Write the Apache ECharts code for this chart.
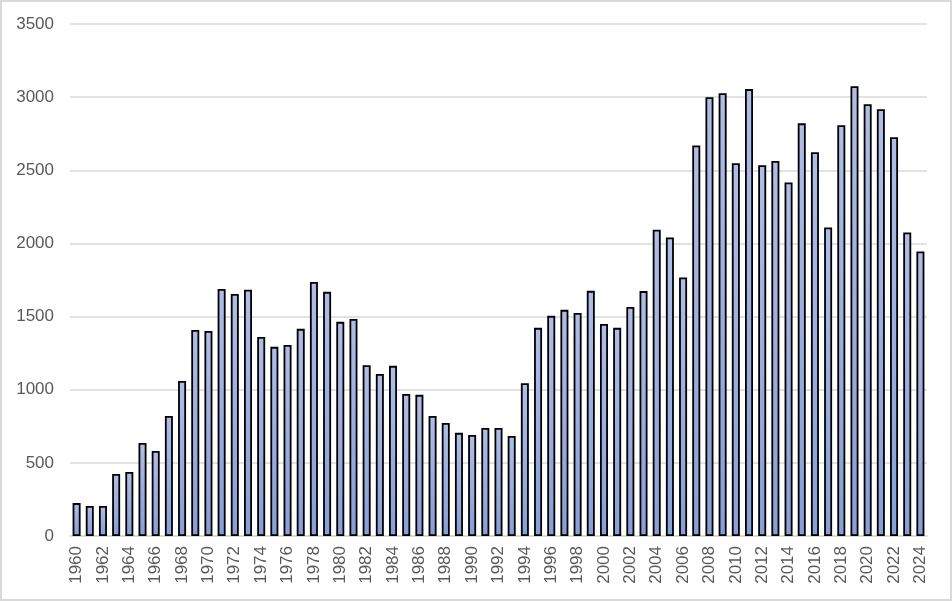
<!DOCTYPE html>
<html>
<head>
<meta charset="utf-8">
<script src="https://cdn.jsdelivr.net/npm/echarts@6/dist/echarts.min.js"></script>
<style>
	html, body { margin: 0; padding: 0; background: #fff; }
	#main { width: 948px; height: 597px; border: 2px solid #d9d9d9; }
</style>
</head>
<body>
<div id="main"></div>
<script>
var years = [];
for (var y = 1960; y <= 2024; y++) years.push(String(y));

var values = [
	225, 205, 205, 424, 438, 636, 581, 821, 1060, 1409,
	1402, 1689, 1655, 1683, 1361, 1293, 1306, 1416, 1737, 1669,
	1464, 1484, 1168, 1108, 1163, 971, 965, 821, 773, 705,
	691, 739, 739, 684, 1045, 1423, 1505, 1546, 1525, 1676,
	1450, 1423, 1566, 1674, 2094, 2041, 1767, 2669, 3000, 3027,
	2548, 3055, 2534, 2564, 2416, 2821, 2623, 2109, 2808, 3075,
	2951, 2917, 2726, 2075, 1945
];

var myChart = echarts.init(document.getElementById('main'));

var option = {
	animation: false,
	grid: { left: 68, right: 23, top: 22, bottom: 63 },
	xAxis: {
		type: 'category',
		data: years,
		axisTick: { show: false },
		axisLine: { lineStyle: { color: '#d9d9d9', width: 1.5 } },
		axisLabel: {
			rotate: 90,
			interval: 1,
			color: '#595959',
			fontSize: 17,
			fontFamily: 'Liberation Sans',
			margin: 10
		}
	},
	yAxis: {
		type: 'value',
		min: 0,
		max: 3500,
		interval: 500,
		axisLine: { show: false },
		axisTick: { show: false },
		splitLine: { lineStyle: { color: '#d9d9d9', width: 1.5 } },
		axisLabel: {
			color: '#595959',
			fontSize: 17,
			fontFamily: 'Liberation Sans',
			margin: 16,
			formatter: function(v) { return String(v); }
		}
	},
	series: [{
		type: 'bar',
		data: values,
		barWidth: 8,
		itemStyle: {
			color: new echarts.graphic.LinearGradient(0, 0, 0, 1, [
				{ offset: 0, color: '#b0bee6' },
				{ offset: 1, color: '#889ed6' }
			]),
			borderColor: '#000',
			borderWidth: 1.8
		}
	}]
};

myChart.setOption(option, true);
</script>
</body>
</html>
